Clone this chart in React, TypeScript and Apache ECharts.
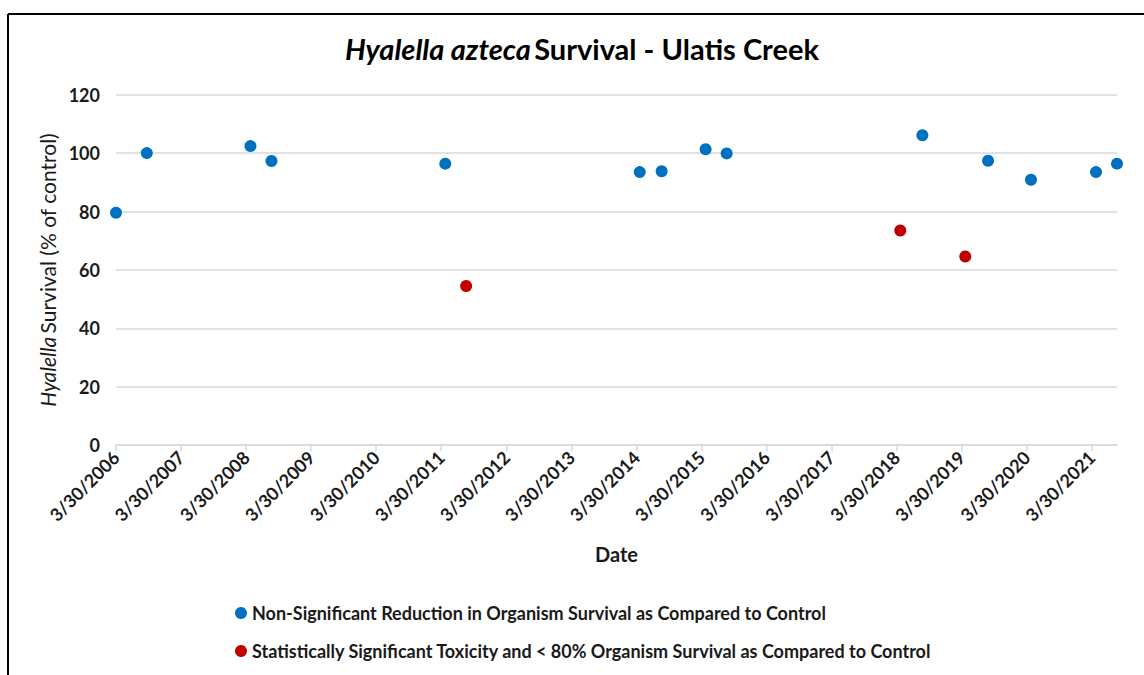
import React, { useEffect, useRef } from 'react';
import * as echarts from 'echarts';

const nonSigName = 'Non-Significant Reduction in Organism Survival as Compared to Control';
const sigName = 'Statistically Significant Toxicity and < 80% Organism Survival as Compared to Control';

const nonSigDates = ['2006-03-30', '2006-09-19', '2008-04-23', '2008-08-19', '2011-04-22', '2014-04-18', '2014-08-19', '2015-04-23', '2015-08-19', '2018-08-22', '2019-08-26', '2020-04-23', '2021-04-23', '2021-08-19'];
const nonSigValues = [79.6, 100, 102.4, 97.3, 96.4, 93.5, 93.8, 101.3, 99.9, 106.1, 97.4, 90.9, 93.5, 96.4];
const sigDates = ['2011-08-17', '2018-04-20', '2019-04-20'];
const sigValues = [54.5, 73.5, 64.6];
const tickDates = ['2006-03-30', '2007-03-30', '2008-03-30', '2009-03-30', '2010-03-30', '2011-03-30', '2012-03-30', '2013-03-30', '2014-03-30', '2015-03-30', '2016-03-30', '2017-03-30', '2018-03-30', '2019-03-30', '2020-03-30', '2021-03-30'];
const xMinDate = '2006-03-30';
const xMaxDate = '2021-08-19';

const ts = (s: string) => {
  const [y, m, d] = s.split('-').map(Number);
  return Date.UTC(y, m - 1, d);
};
const fmt = (v: number) => {
  const d = new Date(v);
  return `${d.getUTCMonth() + 1}/${d.getUTCDate()}/${d.getUTCFullYear()}`;
};

const FONT = 'Lato, "Open Sans", sans-serif';

export default function App() {
  const ref = useRef<HTMLDivElement>(null);
  useEffect(() => {
    if (!ref.current) return;
    const chart = echarts.init(ref.current, undefined, { renderer: 'svg' });
    const ticks = tickDates.map(ts);
    chart.setOption({
      animation: false,
      textStyle: { fontFamily: FONT },
      graphic: [
        { type: 'line', shape: { x1: 8, y1: 14, x2: 1144, y2: 14 }, style: { stroke: '#000', lineWidth: 2 } },
        { type: 'line', shape: { x1: 8, y1: 14, x2: 8, y2: 675 }, style: { stroke: '#000', lineWidth: 2 } },
        {
          type: 'text',
          x: 582,
          y: 48,
          style: {
            text: '{i|Hyalella azteca} {b|Survival - Ulatis Creek}',
            align: 'center',
            verticalAlign: 'middle',
            rich: {
              i: { fontFamily: FONT, fontSize: 29, fontWeight: 'bold', fontStyle: 'italic', fill: '#000' },
              b: { fontFamily: FONT, fontSize: 29, fontWeight: 'bold', fill: '#000' },
            },
          },
        },
      ],
      grid: { left: 116, right: 27, top: 94.7, bottom: 229.8, containLabel: false },
      legend: {
        orient: 'vertical',
        left: 230,
        top: 597,
        itemWidth: 12,
        itemHeight: 12,
        itemGap: 16,
        icon: 'circle',
        textStyle: { fontFamily: FONT, fontSize: 18, fontWeight: 'bold', color: '#1a1a1a', lineHeight: 22 },
        data: [nonSigName, sigName],
      },
      xAxis: {
        type: 'value',
        min: ts(xMinDate),
        max: ts(xMaxDate),
        name: 'Date',
        nameLocation: 'middle',
        nameGap: 99,
        nameTextStyle: { fontFamily: FONT, fontSize: 20, fontWeight: 'bold', color: '#1a1a1a' },
        axisLine: { lineStyle: { color: '#d9d9d9', width: 1.5 } },
        axisTick: { show: true, length: 6, customValues: ticks, lineStyle: { color: '#d9d9d9', width: 1.5 } },
        axisLabel: {
          customValues: ticks,
          rotate: 45,
          margin: 9,
          formatter: (v: number) => fmt(v),
          fontFamily: FONT,
          fontSize: 18,
          fontWeight: 'bold',
          color: '#1a1a1a',
        },
        splitLine: { show: false },
      },
      yAxis: {
        type: 'value',
        min: 0,
        max: 120,
        interval: 20,
        name: '{i|Hyalella} {n|Survival (% of control)}',
        nameLocation: 'middle',
        nameGap: 54,
        nameTextStyle: {
          rich: {
            i: { fontFamily: FONT, fontSize: 21, fontStyle: 'italic', color: '#1a1a1a' },
            n: { fontFamily: FONT, fontSize: 21, color: '#1a1a1a' },
          },
        },
        axisLine: { show: false },
        axisTick: { show: false },
        axisLabel: { margin: 16, fontFamily: FONT, fontSize: 18, fontWeight: 'bold', color: '#1a1a1a' },
        splitLine: { lineStyle: { color: '#d9d9d9', width: 1.5 } },
      },
      series: [
        {
          name: nonSigName,
          type: 'scatter',
          symbol: 'circle',
          symbolSize: 12,
          itemStyle: { color: '#0070C0', opacity: 1 },
          data: nonSigDates.map((d, i) => [ts(d), nonSigValues[i]]),
        },
        {
          name: sigName,
          type: 'scatter',
          symbol: 'circle',
          symbolSize: 12,
          itemStyle: { color: '#C00000', opacity: 1 },
          data: sigDates.map((d, i) => [ts(d), sigValues[i]]),
        },
      ],
    });
    return () => chart.dispose();
  }, []);
  return (
    <div
      ref={ref}
      style={{ position: 'fixed', left: 0, top: 0, width: 1144, height: 675, background: '#fff' }}
    />
  );
}
